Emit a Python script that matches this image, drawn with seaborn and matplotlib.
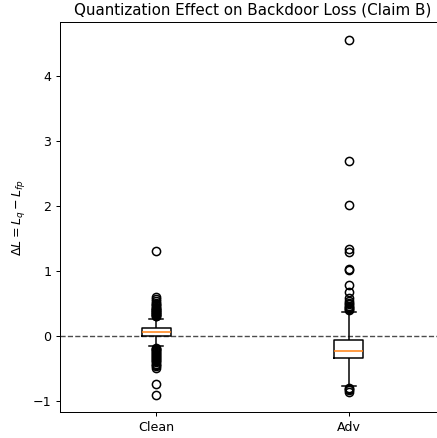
import matplotlib
matplotlib.use('Agg')
import matplotlib.pyplot as plt
import pandas as pd
import seaborn as sns

groups = ['Clean', 'Adv']

# delta L = L_q - L_fp
clean = [-0.91, -0.73, -0.48, -0.46, -0.44, -0.42, -0.40, -0.385, -0.37, -0.355,
         -0.34, -0.32, -0.30, -0.285, -0.27, -0.255, -0.24, -0.225, -0.21, -0.20,
         -0.19, -0.18, -0.15, -0.05,
         0.005,
         0.01, 0.012, 0.015, 0.018, 0.02, 0.023, 0.026, 0.029, 0.032, 0.035,
         0.038, 0.04, 0.043, 0.046, 0.048, 0.05, 0.053, 0.055, 0.058, 0.06,
         0.063, 0.065, 0.068,
         0.07,
         0.072, 0.074, 0.076, 0.078, 0.08, 0.082, 0.084, 0.086, 0.088, 0.09,
         0.092, 0.094, 0.096, 0.098, 0.10, 0.102, 0.105, 0.108, 0.11, 0.113,
         0.115, 0.118, 0.12,
         0.123,
         0.18, 0.27,
         0.31, 0.32, 0.33, 0.34, 0.35, 0.36, 0.37, 0.38, 0.39, 0.40,
         0.41, 0.42, 0.43, 0.44, 0.46, 0.48, 0.50, 0.52, 0.55, 0.58,
         0.61, 1.32]

adv = [-0.85, -0.83, -0.81, -0.79, -0.765,
       -0.72, -0.68, -0.64, -0.60, -0.57, -0.54, -0.51, -0.49, -0.47, -0.45,
       -0.43, -0.41, -0.39, -0.37, -0.355,
       -0.34,
       -0.335, -0.33, -0.325, -0.32, -0.31, -0.305, -0.30, -0.29, -0.285, -0.28,
       -0.27, -0.265, -0.26, -0.25, -0.245, -0.24, -0.235, -0.23, -0.225,
       -0.22,
       -0.21, -0.20, -0.19, -0.18, -0.17, -0.16, -0.15, -0.14, -0.13, -0.12,
       -0.11, -0.10, -0.095, -0.09, -0.08, -0.075, -0.07, -0.06, -0.055,
       -0.05,
       0.15, 0.37,
       0.40, 0.415, 0.43, 0.45, 0.47, 0.49, 0.52, 0.54, 0.595, 0.68,
       0.795, 1.02, 1.04, 1.30, 1.34, 2.02, 2.70, 4.56]

df = pd.DataFrame({
    'group': [groups[0]] * len(clean) + [groups[1]] * len(adv),
    'delta': clean + adv,
})

dpi = 91
fig = plt.figure(figsize=(437 / dpi, 438 / dpi), dpi=dpi)
ax = fig.add_axes([0.1373, 0.060, 0.881, 0.889])

sns.boxplot(data=df, x='group', y='delta', order=groups, ax=ax,
            fill=False, color='black', width=0.15, linewidth=1.2,
            flierprops=dict(marker='o', markersize=6.5, markerfacecolor='none',
                            markeredgecolor='black', markeredgewidth=1.2),
            medianprops=dict(color='C1', linewidth=1.2))

ax.axhline(0, color='black', linestyle='--', linewidth=1.1, alpha=0.7)
ax.set_xlim(-0.5, 1.5)
ax.set_ylim(-1.16, 4.83)
ax.set_xlabel('')
ax.set_ylabel(r'$\Delta L = L_q - L_{fp}$')
ax.set_title('Quantization Effect on Backdoor Loss (Claim B)')

fig.savefig('out.png', dpi=dpi)
